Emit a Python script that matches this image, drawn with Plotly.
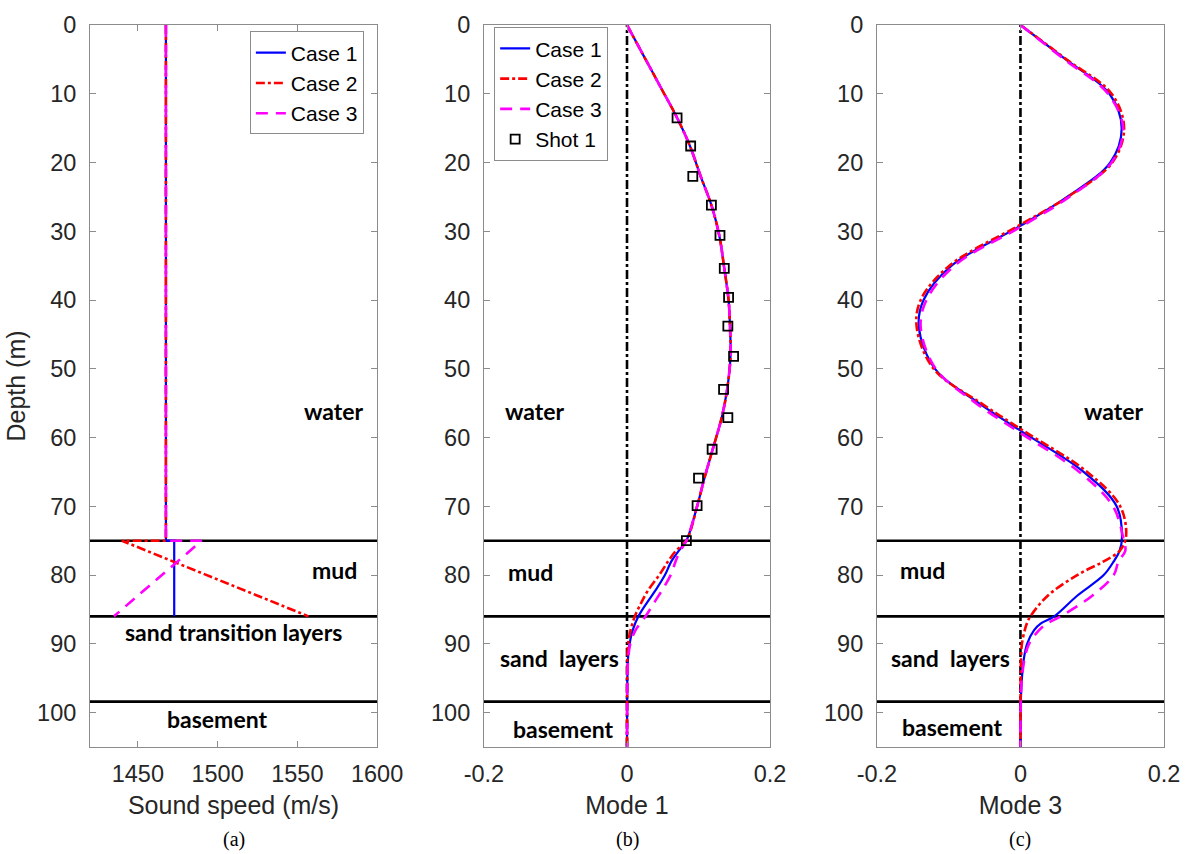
import plotly.graph_objects as go

# ---- layer interfaces (m) ----
layer_depths = [75, 86, 98.4]

# ---- (a) sound speed profiles ----
ss_depth = [0, 75, 75, 86]
ss_case1 = [1467.6, 1467.6, 1472.8, 1472.8]
ss_case2 = [1467.6, 1467.6, 1440, 1557]
ss_case3 = [1467.6, 1467.6, 1490, 1435]

# ---- (b) mode 1 ----
m1_depth = [0, 5, 10, 13.5, 17.6, 22, 26.2, 30.6, 35.4, 40, 44, 48, 53, 57, 62, 66, 70, 75,
            76.5, 78, 80, 82.2, 84, 86, 88, 90, 92, 95, 98.4, 105]
m1_case1 = [0, 0.026, 0.052, 0.070, 0.088, 0.103, 0.118, 0.129, 0.136, 0.142, 0.144, 0.1448,
            0.1400, 0.1326, 0.119, 0.108, 0.098, 0.083,
            0.072, 0.062, 0.053, 0.040, 0.028, 0.016, 0.008, 0.0036, 0.0015, 0.0005, 0.0002, 0]
m1_case2 = [0, 0.026, 0.052, 0.070, 0.088, 0.103, 0.118, 0.129, 0.136, 0.142, 0.144, 0.1448,
            0.1400, 0.1326, 0.119, 0.108, 0.098, 0.083,
            0.068, 0.0575, 0.045, 0.0295, 0.020, 0.011, 0.005, 0.0015, 0.0005, 0.0002, 0.0001, 0]
m1_case3 = [0, 0.026, 0.052, 0.070, 0.088, 0.103, 0.118, 0.129, 0.136, 0.142, 0.144, 0.1448,
            0.1400, 0.1326, 0.119, 0.108, 0.098, 0.083,
            0.074, 0.068, 0.061, 0.049, 0.038, 0.026, 0.012, 0.0045, 0.0018, 0.0005, 0.0002, 0]

shot_depth = [13.5, 17.6, 22.0, 26.2, 30.6, 35.4, 39.6, 43.8, 48.2, 53.0, 57.1, 61.7, 65.9, 69.9, 75.0]
shot_mode1 = [0.070, 0.089, 0.092, 0.118, 0.130, 0.136, 0.142, 0.141, 0.149, 0.135, 0.141,
              0.119, 0.100, 0.098, 0.083]

# ---- (c) mode 3 ----
m3_depth = [0, 5, 10, 15, 20, 25, 29.2, 35, 40, 44, 50, 55, 59, 65, 70, 74.5,
            76.5, 78, 80, 83, 86, 87, 88, 90, 92, 95, 98.4, 105]
m3_case1 = [0, 0.063, 0.124, 0.141, 0.125, 0.065, 0, -0.096, -0.135, -0.1415, -0.119, -0.058,
            0, 0.088, 0.134, 0.1415, 0.138, 0.130, 0.116, 0.079, 0.047, 0.029, 0.019, 0.0093,
            0.005, 0.002, 0.0005, 0]
m3_case2 = [0, 0.064, 0.127, 0.1444, 0.128, 0.066, -0.003, -0.099, -0.139, -0.1445, -0.121,
            -0.055, 0.004, 0.093, 0.139, 0.147, 0.138, 0.116, 0.079, 0.038, 0.0138, 0.009,
            0.006, 0.002, 0.0008, 0.0003, 0.0001, 0]
m3_case3 = [0, 0.061, 0.122, 0.143, 0.127, 0.068, 0.003, -0.092, -0.131, -0.139, -0.118,
            -0.062, -0.005, 0.082, 0.129, 0.143, 0.146, 0.1366, 0.130, 0.100, 0.056, 0.038,
            0.026, 0.012, 0.006, 0.002, 0.0005, 0]

# ---- layer labels per panel: (text, x, depth) ----
labels_a = [("water", 1573, 56.2), ("mud", 1573, 79.3),
            ("sand transition layers", 1510, 88.3), ("basement", 1499.5, 100.9)]
labels_b = [("water", -0.129, 56.1), ("mud", -0.1345, 79.5),
            ("sand  layers", -0.0945, 92.1), ("basement", -0.0898, 102.4)]
labels_c = [("water", 0.1297, 56.1), ("mud", -0.137, 79.2),
            ("sand  layers", -0.098, 92.1), ("basement", -0.0956, 102.1)]

captions = ["(a)", "(b)", "(c)"]
x_titles = ["Sound speed (m/s)", "Mode 1", "Mode 3"]

BLUE, RED, MAG = "#0000FF", "#FF0000", "#FF00FF"
SANS = "Liberation Sans"
TICK_FONT = dict(family=SANS, size=23.5, color="#262626")
TITLE_FONT = dict(family=SANS, size=25, color="#262626")

fig = go.Figure()

def add_cases(depth, c1, c2, c3, xa, ya, legend, show):
    fig.add_trace(go.Scatter(x=c1, y=depth, mode="lines", name="Case 1",
                             line=dict(color=BLUE, width=2.2), line_shape="spline",
                             xaxis=xa, yaxis=ya, legend=legend, showlegend=show))
    fig.add_trace(go.Scatter(x=c2, y=depth, mode="lines", name="Case 2",
                             line=dict(color=RED, width=2.6, dash="dashdot"), line_shape="spline",
                             xaxis=xa, yaxis=ya, legend=legend, showlegend=show))
    fig.add_trace(go.Scatter(x=c3, y=depth, mode="lines", name="Case 3",
                             line=dict(color=MAG, width=2.6, dash="12px,8px"), line_shape="spline",
                             xaxis=xa, yaxis=ya, legend=legend, showlegend=show))

# panel (a): piecewise-linear profiles
for name, vals, col, w, dash in [("Case 1", ss_case1, BLUE, 2.2, "solid"),
                                 ("Case 2", ss_case2, RED, 2.6, "dashdot"),
                                 ("Case 3", ss_case3, MAG, 2.6, "12px,8px")]:
    fig.add_trace(go.Scatter(x=vals, y=ss_depth, mode="lines", name=name,
                             line=dict(color=col, width=w, dash=dash),
                             xaxis="x", yaxis="y", legend="legend"))

add_cases(m1_depth, m1_case1, m1_case2, m1_case3, "x2", "y2", "legend2", True)
fig.add_trace(go.Scatter(x=shot_mode1, y=shot_depth, mode="markers", name="Shot 1",
                         marker=dict(symbol="square-open", size=9, color="black",
                                     line=dict(width=1.8, color="black")),
                         xaxis="x2", yaxis="y2", legend="legend2"))
add_cases(m3_depth, m3_case1, m3_case2, m3_case3, "x3", "y3", "legend", False)

# interface lines and zero reference lines
shapes = []
for ax in ["", "2", "3"]:
    for d in layer_depths:
        shapes.append(dict(type="line", xref=f"x{ax} domain", yref=f"y{ax}", x0=0, x1=1,
                           y0=d, y1=d, line=dict(color="black", width=2.6), layer="below"))
for ax in ["2", "3"]:
    shapes.append(dict(type="line", xref=f"x{ax}", yref=f"y{ax} domain", x0=0, x1=0,
                       y0=0, y1=1, line=dict(color="black", width=2.6, dash="dashdot"),
                       layer="below"))

annotations = []
for ax, labs in zip(["", "2", "3"], [labels_a, labels_b, labels_c]):
    for text, x, d in labs:
        annotations.append(dict(text=f"<b>{text}</b>", x=x, y=d, xref=f"x{ax}", yref=f"y{ax}",
                                showarrow=False, font=dict(family="Lato", size=23, color="black")))
for ax, cap in zip(["", "2", "3"], captions):
    annotations.append(dict(text=cap, x=0.5, xref=f"x{ax} domain", y=-0.128, yref="paper",
                            yanchor="middle", showarrow=False,
                            font=dict(family="Liberation Serif", size=20, color="black")))

axis_common = dict(showline=True, linecolor="#8c8c8c", linewidth=1, mirror="ticks",
                   ticks="inside", ticklen=6, tickcolor="#8c8c8c", showgrid=False,
                   zeroline=False, tickfont=TICK_FONT)
yaxis_common = dict(axis_common, range=[105, 0], tickvals=list(range(0, 101, 10)),
                    ticklabelstandoff=8)

domains = [[0, 0.2673], [0.3668, 0.6332], [0.7327, 1.0]]

fig.update_layout(
    width=1202, height=854,
    margin=dict(l=90, r=27, t=13, b=107),
    paper_bgcolor="white", plot_bgcolor="white",
    font=dict(family=SANS, color="#262626"),
    xaxis=dict(axis_common, domain=domains[0], range=[1420, 1600],
               tickvals=[1450, 1500, 1550, 1600], anchor="y", ticklabelstandoff=6,
               title=dict(text=x_titles[0], font=TITLE_FONT, standoff=10)),
    xaxis2=dict(axis_common, domain=domains[1], range=[-0.2, 0.2],
                tickvals=[-0.2, 0, 0.2], ticktext=["-0.2", "0", "0.2"], anchor="y2",
                ticklabelstandoff=6,
                title=dict(text=x_titles[1], font=TITLE_FONT, standoff=10)),
    xaxis3=dict(axis_common, domain=domains[2], range=[-0.2, 0.2],
                tickvals=[-0.2, 0, 0.2], ticktext=["-0.2", "0", "0.2"], anchor="y3",
                ticklabelstandoff=6,
                title=dict(text=x_titles[2], font=TITLE_FONT, standoff=10)),
    yaxis=dict(yaxis_common, anchor="x",
               title=dict(text="Depth (m)", font=TITLE_FONT, standoff=4)),
    yaxis2=dict(yaxis_common, anchor="x2"),
    yaxis3=dict(yaxis_common, anchor="x3"),
    legend=dict(x=0.255, y=0.991, xanchor="right", yanchor="top",
                bgcolor="white", bordercolor="#8c8c8c", borderwidth=1,
                font=dict(family=SANS, size=21, color="black")),
    legend2=dict(x=0.3763, y=0.997, xanchor="left", yanchor="top",
                 bgcolor="white", bordercolor="#8c8c8c", borderwidth=1,
                 font=dict(family=SANS, size=21, color="black")),
    shapes=shapes, annotations=annotations,
)

fig.write_html("out.html")
